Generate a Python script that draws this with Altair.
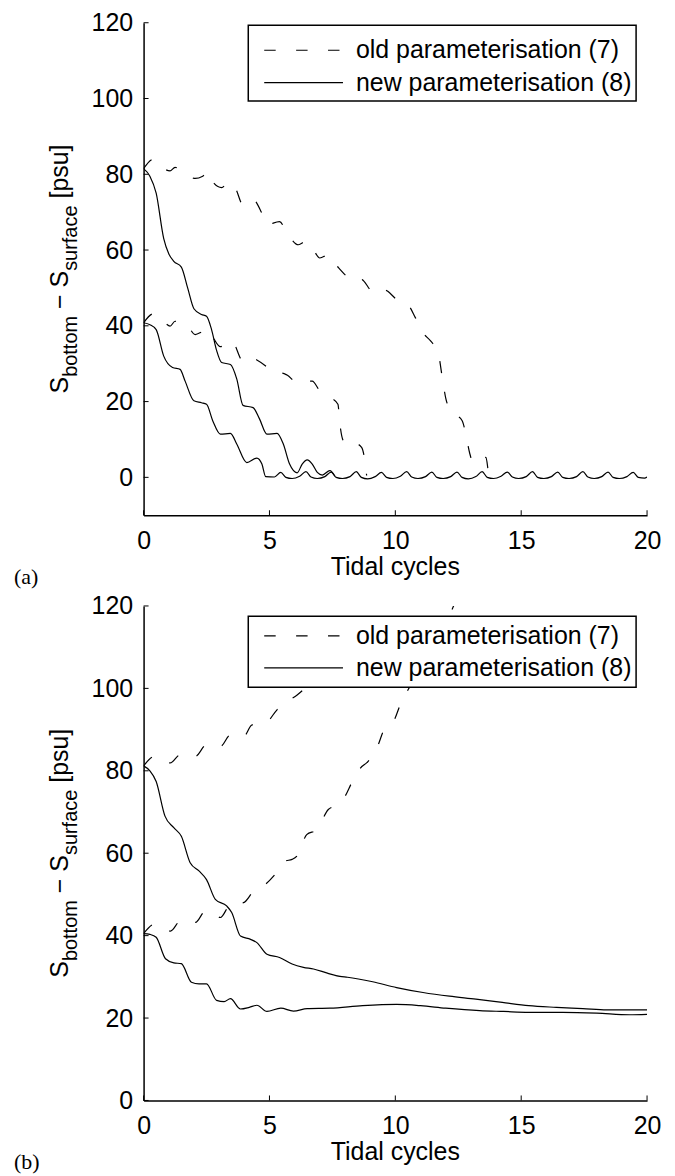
import altair as alt
import pandas as pd

FONT = "Liberation Sans"
SERIF = "Liberation Serif"

# ---------------- data ----------------
x_ticks = [0, 5, 10, 15, 20]
y_ticks = [0, 20, 40, 60, 80, 100, 120]

# Panel (a)
a_new_hi_t = [0, 0.25, 0.5, 0.8, 1.0, 1.2, 1.5, 1.75, 2.0, 2.3, 2.5, 2.7, 2.9, 3.1, 3.45, 3.7,
              3.95, 4.35, 4.6, 4.9, 5.3, 5.55, 5.8, 6.1, 6.3, 6.5, 6.7, 6.9, 7.1, 7.4, 7.6]
a_new_hi_v = [81.5, 79.5, 75, 63, 59, 57, 55.5, 50, 44.5, 43, 42.5, 39, 33.5, 30.3, 29.8, 26,
              19, 18.4, 15.5, 11.4, 11.6, 8.8, 3.5, 1.2, 3.5, 4.6, 3.5, 1.3, 0.6, 1.8, 0.3]

a_new_lo_t = [0, 0.25, 0.5, 0.8, 1.15, 1.45, 1.65, 2.0, 2.3, 2.5, 2.75, 3.05, 3.45, 3.7, 4.1,
              4.5, 4.7, 4.85]
a_new_lo_v = [40.8, 40.3, 39, 32, 29, 28.5, 25.4, 20.2, 19.7, 19.3, 14.9, 11.4, 11.6, 8.8, 3.9,
              5.1, 3.5, 0.2]

# settled, tidally oscillating part near zero (panel a)
a_tail_t = [5.2, 5.45, 5.65, 5.9, 6.2, 6.45, 6.65, 6.9, 7.2, 7.45, 7.65, 7.9, 8.2, 8.45, 8.65, 8.9,
            9.2, 9.45, 9.65, 9.9, 10.2, 10.45, 10.65, 10.9, 11.2, 11.45, 11.65, 11.9, 12.2, 12.45,
            12.65, 12.9, 13.2, 13.45, 13.65, 13.9, 14.2, 14.45, 14.65, 14.9, 15.2, 15.45, 15.65,
            15.9, 16.2, 16.45, 16.65, 16.9, 17.2, 17.45, 17.65, 17.9, 18.2, 18.45, 18.65, 18.9,
            19.2, 19.45, 19.65, 19.9, 20.0]
a_tail_v = [0.1, 1.3, 0.0, -0.3, 0.3, 1.5, 0.1, -0.3, 0.2, 1.4, 0.0, -0.3, 0.2, 1.5, 0.0, -0.4,
            0.2, 1.3, 0.0, -0.3, 0.3, 1.5, 0.1, -0.3, 0.2, 1.4, 0.0, -0.3, 0.2, 1.4,
            0.0, -0.4, 0.2, 1.5, 0.0, -0.3, 0.3, 1.4, 0.1, -0.3, 0.2, 1.5, 0.0,
            -0.3, 0.2, 1.4, 0.0, -0.3, 0.2, 1.5, 0.1, -0.3, 0.2, 1.4, 0.0, -0.3,
            0.2, 1.3, 0.0, -0.2, 0.1]

a_old_hi_t = [0, 0.4, 0.7, 1.05, 1.25, 1.6, 2.05, 2.35, 2.6, 2.8, 3.1, 3.4, 3.65, 3.95, 4.35,
              4.7, 4.9, 5.4, 5.7, 6.15, 6.45, 6.75, 7.0, 7.35, 7.75, 8.25, 8.5, 8.75, 9.1, 9.45,
              9.7, 10.05, 10.45, 10.8, 11.05, 11.4, 11.7, 11.85, 12.0, 12.2, 12.65, 12.8, 12.95,
              13.1, 13.4, 13.6, 13.7, 13.75]
a_old_hi_v = [81.5, 84, 82, 80.9, 81.8, 80.5, 78.9, 79.5, 80.7, 77.6, 76.5, 78, 76.3, 71.9, 73.3,
              69.7, 66.7, 67.5, 64.5, 61.4, 62.3, 60, 57.9, 58.8, 55.3, 52.6, 53.1, 51.8, 49.1, 50,
              49.1, 47, 46, 42.1, 38.6, 36, 33, 27, 21, 17.5, 15, 11.4, 6.5,
              3.8, 4.5, 5.3, 1.3, 0]

a_old_lo_t = [0, 0.4, 0.85, 1.05, 1.25, 1.7, 2.05, 2.35, 2.6, 2.8, 3.05, 3.35, 3.5, 3.95, 4.2,
              4.5, 4.85, 5.15, 5.5, 5.7, 6.1, 6.45, 6.7, 7.0, 7.45, 7.72, 7.8, 7.93, 8.2, 8.46,
              8.66, 8.8, 8.86]
a_old_lo_v = [40.8, 43.2, 40.8, 39.9, 41.2, 40.4, 37.7, 38.5, 39, 36.5, 34.5, 35.5, 36, 30.7, 31.8,
              31, 29.4, 27.6, 27.5, 27, 25, 25.4, 25.4, 22.8, 21, 19.3, 14, 9.7, 8.2, 8.8,
              7.9, 3.9, 0.5]

# Panel (b)
b_new_hi_t = [0, 0.25, 0.5, 0.85, 1.2, 1.5, 1.85, 2.2, 2.5, 2.85, 3.3, 3.5, 3.85, 4.25, 4.5, 4.9,
              5.4, 5.9, 6.35, 6.75, 7.3, 7.8, 8.1, 9.1, 10.05, 11.1, 12.15, 13.2, 14.25, 15.3,
              16.4, 17.45, 18.4, 19.0, 20.0]
b_new_hi_v = [81.2, 80, 77.4, 69, 66.2, 64.1, 57.7, 55.7, 53.6, 48.8, 47.2, 45.6, 39.9, 39.1, 38.3,
              35.5, 34.7, 33.1, 32.3, 31.9, 30.9, 30.1, 29.9, 28.8, 27.4, 26.2, 25.3, 24.6, 23.8,
              23.0, 22.6, 22.3, 22.0, 22.0, 22.0]

b_new_lo_t = [0, 0.25, 0.5, 0.87, 1.2, 1.5, 1.9, 2.2, 2.5, 2.9, 3.2, 3.45, 3.85, 4.2, 4.5, 4.9,
              5.45, 5.95, 6.5, 7.4, 8.7, 10.05, 11.0, 12.0, 13.35, 14.3, 15.3, 16.65, 18.0, 19.3,
              20.0]
b_new_lo_v = [40.5, 40.3, 39.6, 34.4, 33.4, 33.2, 28.7, 28.3, 28.3, 24.3, 24.0, 24.7, 22.2, 22.6,
              23.1, 21.6, 22.4, 21.7, 22.3, 22.4, 23.0, 23.3, 23.0, 22.4, 21.8, 21.6, 21.4, 21.4,
              21.2, 20.8, 20.9]

b_old_hi_t = [0, 0.45, 0.75, 1.05, 1.45, 1.75, 2.05, 2.5, 2.8, 3.05, 3.45, 3.75, 3.97, 4.3, 4.6,
              4.9, 5.3, 5.7, 6.1, 7.0, 8.0, 8.7, 9.0]
b_old_hi_v = [81.2, 83.5, 82.5, 81.9, 83.9, 84, 83.5, 86.3, 86.3, 85.9, 88.7, 88.7, 88.3, 91.1,
              91.5, 91.9, 94.8, 96.8, 98.4, 104, 112.5, 120, 123]

b_old_lo_t = [0, 0.45, 0.75, 1.07, 1.47, 1.75, 2.06, 2.46, 2.75, 3.05, 3.45, 3.7, 3.97, 4.37,
              4.83, 5.23, 5.62, 5.9, 6.09, 6.48, 6.88, 7.34, 7.6, 8.0, 8.26, 8.59, 8.92, 9.32,
              9.5, 9.98, 10.18, 10.5, 11.0, 11.5, 12.0, 12.3, 12.6]
b_old_lo_v = [40.5, 42.8, 42, 41.1, 43.6, 43.5, 43.2, 46, 45.5, 44.4, 47.6, 47.8, 48, 50.8, 52.4,
              54.9, 58.1, 58.5, 59.3, 64.5, 65.7, 70.6, 71.5, 73.8, 77, 80.5, 82.3, 86.3, 89.3,
              92.6, 95.8, 99.6, 104.5, 109.5, 115.5, 119.8, 124]

legend_labels = ["old parameterisation (7)", "new parameterisation (8)"]
x_title = "Tidal cycles"

# ---------------- helpers ----------------
W = {" ": 278, "S": 667, "b": 556, "o": 556, "t": 278, "m": 833, "\u2212": 584, "s": 500,
     "u": 556, "r": 333, "f": 278, "a": 556, "c": 500, "e": 556, "[": 278, "p": 556, "]": 278}


def tw(s, size):
    return sum(W.get(ch, 556) for ch in s) / 1000.0 * size


PW = 505
MAIN, SUB = 25, 20
one = pd.DataFrame({"k": [0]})


def txt(s, x, y, size=25, font=FONT, align="left", baseline="middle", angle=0):
    kw = dict(text=s, fontSize=size, font=font, align=align, baseline=baseline, color="black")
    if angle:
        kw["angle"] = angle
    return alt.Chart(one).mark_text(**kw).encode(x=alt.value(x), y=alt.value(y))


def panel(curves, ydomain, h, leg, label):
    rows = []
    for name, style, ts, vs in curves:
        for t, v in zip(ts, vs):
            rows.append({"curve": name, "style": style, "t": t, "v": v})
    df = pd.DataFrame(rows)
    xs = alt.Scale(domain=[0, 20], nice=False, zero=False)
    ys = alt.Scale(domain=ydomain, nice=False, zero=False)
    xax = alt.Axis(values=x_ticks, ticks=False, grid=False, labelPadding=13, labelFlush=False,
                   labelOverlap=False, title=None)
    yax = alt.Axis(values=y_ticks, ticks=False, grid=False, labelPadding=11, labelFlush=False,
                   labelOverlap=False, title=None)
    base = alt.Chart(df)
    enc = dict(x=alt.X("t:Q", scale=xs, axis=xax), y=alt.Y("v:Q", scale=ys, axis=yax),
               detail="curve:N")
    old = base.transform_filter(alt.datum.style == "old").mark_line(
        color="black", strokeWidth=1.2, strokeDash=[12, 19], clip=True,
        interpolate="monotone").encode(**enc)
    new = base.transform_filter(alt.datum.style == "new").mark_line(
        color="black", strokeWidth=1.2, clip=True, interpolate="monotone").encode(**enc)

    # inward tick marks (MATLAB style)
    xt = alt.Chart(pd.DataFrame({"t": x_ticks})).mark_rule(color="black", strokeWidth=1).encode(
        x=alt.X("t:Q", scale=xs, axis=xax), y=alt.value(h), y2=alt.value(h - 5))
    yt = alt.Chart(pd.DataFrame({"v": y_ticks})).mark_rule(color="black", strokeWidth=1).encode(
        y=alt.Y("v:Q", scale=ys, axis=yax), x=alt.value(0), x2=alt.value(5))

    btop, bbot, r1, r2 = leg
    box = alt.Chart(one).mark_rect(fill="white", stroke="black", strokeWidth=1.5).encode(
        x=alt.value(105), x2=alt.value(494), y=alt.value(btop), y2=alt.value(bbot))
    s1 = alt.Chart(one).mark_rule(color="black", strokeWidth=1.2, strokeDash=[11.5, 20.5]).encode(
        x=alt.value(121), x2=alt.value(200), y=alt.value(r1))
    s2 = alt.Chart(one).mark_rule(color="black", strokeWidth=1.2).encode(
        x=alt.value(121), x2=alt.value(200), y=alt.value(r2))
    t1 = txt(legend_labels[0], 213, r1)
    t2 = txt(legend_labels[1], 213, r2)

    # y-axis title with subscripts, composed of rotated pieces
    pieces = [("S", MAIN, 0), ("bottom", SUB, 0), (None, MAIN, tw(" ", MAIN)),
              ("\u2212 S", MAIN, 0), ("surface", SUB, 0), (None, MAIN, tw(" ", MAIN)),
              ("[psu]", MAIN, 0)]
    total = sum(tw(p, s) if p else g for p, s, g in pieces)
    cur = h / 2 + total / 2
    ylayers = []
    for p, s, g in pieces:
        if p is None:
            cur -= g
            continue
        xpos = -76 if s == MAIN else -67
        ylayers.append(txt(p, xpos, cur, size=s, baseline="alphabetic", angle=270))
        cur -= tw(p, s)

    xtl = txt(x_title, PW / 2, h + 52, align="center")
    lab = txt(label, -130, h + 62, size=22, font=SERIF)

    return alt.layer(old, new, xt, yt, box, s1, s2, t1, t2, *ylayers, xtl, lab).properties(
        width=PW, height=h)


pa = panel([("a_old_hi", "old", a_old_hi_t, a_old_hi_v),
            ("a_old_lo", "old", a_old_lo_t, a_old_lo_v),
            ("a_new_hi", "new", a_new_hi_t, a_new_hi_v),
            ("a_new_lo", "new", a_new_lo_t + a_tail_t, a_new_lo_v + a_tail_v)],
           [-10, 120], 494, (2.5, 78.6, 27.6, 60), "(a)")
pb = panel([("b_old_hi", "old", b_old_hi_t, b_old_hi_v),
            ("b_old_lo", "old", b_old_lo_t, b_old_lo_v),
            ("b_new_hi", "new", b_new_hi_t, b_new_hi_v),
            ("b_new_lo", "new", b_new_lo_t, b_new_lo_v)],
           [0, 120], 496, (10.3, 81.6, 30, 62), "(b)")

chart = alt.vconcat(pa, pb, spacing=91, bounds="flush").properties(
    padding={"left": 5, "top": 0, "right": 5, "bottom": 5}
).configure_view(stroke="transparent").configure_axis(
    labelFont=FONT, labelFontSize=25, labelColor="black", domainColor="black", domainWidth=1.5,
    ticks=False, grid=False
)

chart.save("out.html", embed_options={"renderer": "svg", "actions": False})
